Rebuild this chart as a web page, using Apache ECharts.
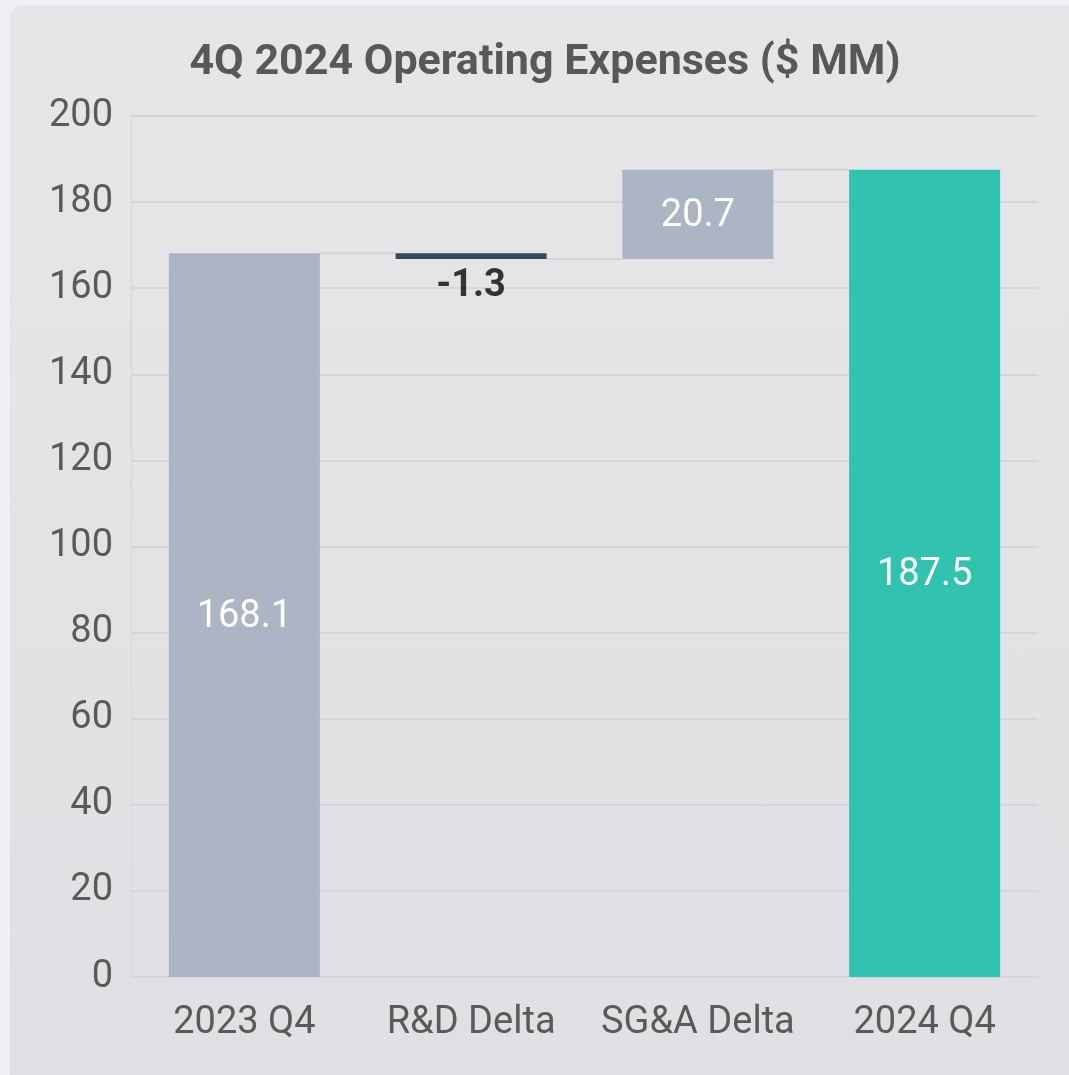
<!DOCTYPE html>
<html>
<head>
<meta charset="utf-8">
<script src="https://cdn.jsdelivr.net/npm/echarts@6/dist/echarts.min.js"></script>
<style>
  html, body { margin: 0; padding: 0; width: 1069px; height: 1075px; overflow: hidden; background: #eff0f5; }
  #panel { position: absolute; left: 10px; top: 5px; width: 1080px; height: 1090px; border-radius: 12px;
           background: linear-gradient(#e6e6e8, #e0e0e4); }
  #chart { position: absolute; left: 0; top: 0; width: 1070px; height: 1090px; }
</style>
</head>
<body>
<div id="panel"><div id="chart"></div></div>
<script>
const categories = ['2023 Q4', 'R&D Delta', 'SG&A Delta', '2024 Q4'];
const values = [168.1, -1.3, 20.7, 187.5];
const isTotal = [true, false, false, true];
const yTicks = [0, 20, 40, 60, 80, 100, 120, 140, 160, 180, 200];

// waterfall construction
const base = [], height = [], ends = [];
let running = 0;
values.forEach((v, i) => {
  if (isTotal[i]) { base.push(0); height.push(v); running = v; }
  else { const next = running + v; base.push(Math.min(running, next)); height.push(Math.abs(v)); running = next; }
  ends.push(running);
});
const colors = values.map((v, i) => isTotal[i] ? (i === values.length - 1 ? '#31c3b0' : '#acb5c3') : (v < 0 ? '#34495e' : '#acb5c3'));
const connectors = ends.slice(0, -1).map((e, i) => [i, e]);
const barFrac = 0.666;

const chart = echarts.init(document.getElementById('chart'));
chart.setOption({
  animation: false,
  textStyle: { fontFamily: 'Roboto' },
  title: {
    text: '4Q 2024 Operating Expenses ($ MM)', left: 'center', top: 32,
    textStyle: { fontFamily: 'Roboto', fontSize: 43, fontWeight: 'bold', color: '#585858' }
  },
  grid: { left: 121, right: 42, top: 111, bottom: 118 },
  xAxis: {
    type: 'category', data: categories,
    axisLine: { show: true, lineStyle: { color: '#d6d6da', width: 2 } },
    axisTick: { show: false },
    axisLabel: { fontSize: 38, color: '#5a5a5a', margin: 27, fontFamily: 'Roboto', interval: 0, hideOverlap: false }
  },
  yAxis: {
    type: 'value', min: 0, max: 200, interval: 20,
    axisLine: { show: true, lineStyle: { color: '#d6d6da', width: 1 } },
    axisTick: { show: false },
    splitLine: { lineStyle: { color: '#d6d6da', width: 2 } },
    axisLabel: { fontSize: 38, color: '#5a5a5a', margin: 18, fontFamily: 'Roboto',
      formatter: v => yTicks.includes(v) ? String(v) : '' }
  },
  series: [
    {
      type: 'bar', stack: 'w', barWidth: (barFrac * 100) + '%', silent: true,
      itemStyle: { color: 'transparent' }, data: base
    },
    {
      type: 'bar', stack: 'w', barWidth: (barFrac * 100) + '%',
      data: height.map((h, i) => ({
        value: h,
        itemStyle: { color: colors[i] },
        label: values[i] < 0
          ? { show: true, position: 'bottom', distance: 9, color: '#333', fontWeight: 'bold', fontSize: 38, formatter: () => values[i].toFixed(1) }
          : { show: true, position: 'inside', offset: [0, 2], color: '#ffffff', fontSize: 38, formatter: () => values[i].toFixed(1) }
      })),
      label: { fontFamily: 'Roboto' }
    },
    {
      type: 'custom', silent: true, z: 1,
      data: connectors,
      renderItem: function (params, api) {
        const i = api.value(0), lvl = api.value(1);
        const p1 = api.coord([i, lvl]);
        const p2 = api.coord([i + 1, lvl]);
        const half = api.size([1, 0])[0] * barFrac / 2;
        return {
          type: 'line',
          shape: { x1: p1[0] + half, y1: p1[1], x2: p2[0] - half, y2: p2[1] },
          style: { stroke: '#d3d3d7', lineWidth: 2 }
        };
      }
    }
  ]
});
</script>
</body>
</html>
